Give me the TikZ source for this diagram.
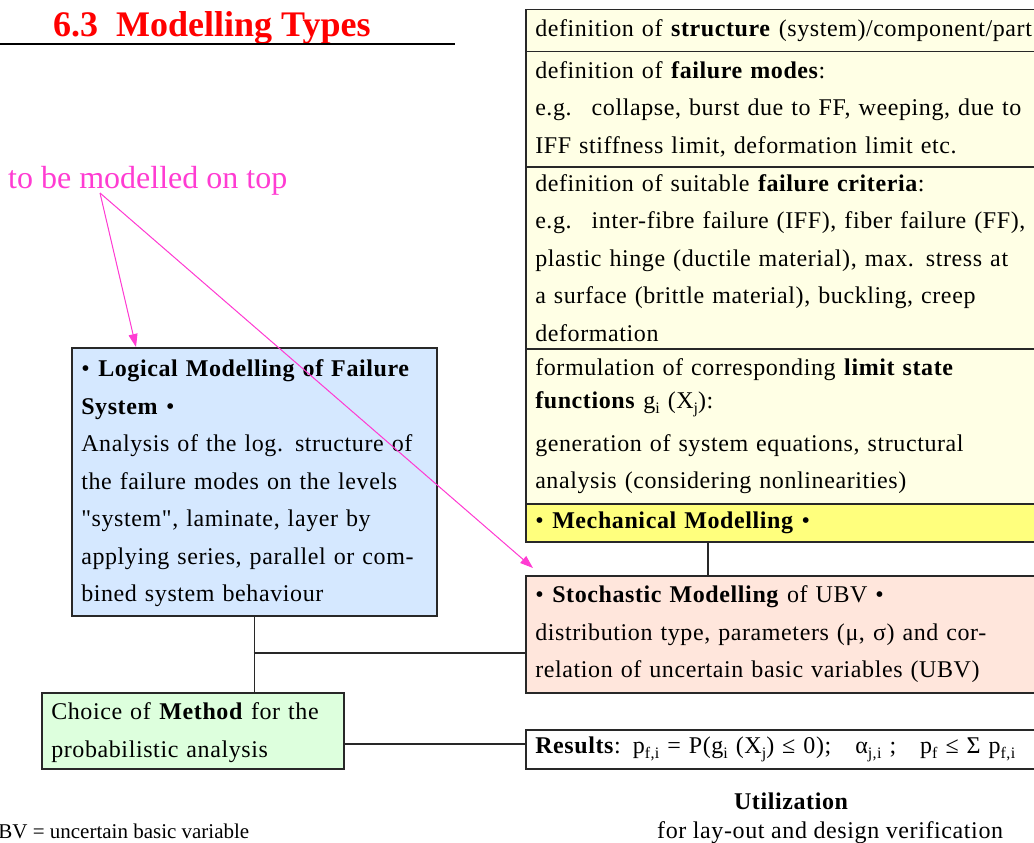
\documentclass[tikz,border=0pt]{standalone}
\usepackage{fontspec}
\setmainfont{Liberation Serif}
\newfontfamily\bodyfont[LetterSpace=2.5]{Liberation Serif}
\usetikzlibrary{arrows.meta}
\newcommand\lowsub[1]{\raisebox{-0.4ex}{\fontsize{16}{16}\selectfont #1}}
\definecolor{paleyellow}{RGB}{255,255,229}
\definecolor{mechyellow}{RGB}{255,255,125}
\definecolor{peach}{RGB}{255,230,220}
\definecolor{paleblue}{RGB}{213,232,255}
\definecolor{palegreen}{RGB}{221,255,221}
\definecolor{magentaline}{RGB}{255,60,210}
\definecolor{boxline}{RGB}{40,40,40}
\tikzset{
  box/.style={draw=boxline, line width=1.5pt, anchor=north west, inner xsep=9.5pt, inner ysep=0pt,
    font=\bodyfont\fontsize{24}{37.5}\selectfont, align=left},
  colbox/.style={box, text width=600pt},
  conn/.style={draw=boxline, line width=1.5pt},
  pointer/.style={draw=magentaline, line width=1pt, -{Triangle[length=13pt,width=9pt]}, fill=magentaline}
}
\begin{document}
\begin{tikzpicture}[x=1pt,y=-1pt]
\useasboundingbox (0,0) rectangle (1034,843);

% title
\node[anchor=base west, inner sep=0pt, text=red, font=\fontsize{36}{40}\selectfont\bfseries] (title) at (53,37) {6.3~~Modelling Types};
\draw[line width=1.5pt, black] (0,44) -- (455,44);

% right column
\node[colbox, fill=paleyellow, minimum height=42pt] (r1) at (525,9)
  {definition of \textbf{structure} (system)/component/part};
\node[colbox, fill=paleyellow, minimum height=115pt] (r2) at (525,51)
  {definition of \textbf{failure modes}:\\
   e.g.~ collapse, burst due to FF, weeping, due to\\
   IFF stiffness limit, deformation limit etc.};
\node[colbox, fill=paleyellow, minimum height=182pt] (r3) at (525,166)
  {definition of suitable \textbf{failure criteria}:\\
   e.g.~ inter-fibre failure (IFF), fiber failure (FF),\\
   plastic hinge (ductile material), max. stress at\\
   a surface (brittle material), buckling, creep\\
   deformation};
\node[colbox, fill=paleyellow, minimum height=155pt] (r4) at (525,348)
  {formulation of corresponding \textbf{limit state}\\[-4pt]
   \textbf{functions} g\lowsub{i} (X\lowsub{j}):\\[5pt]
   generation of system equations, structural\\
   analysis (considering nonlinearities)};
\node[colbox, fill=mechyellow, minimum height=38pt] (mech) at (525,503)
  {• \textbf{Mechanical Modelling} •};

\node[colbox, fill=peach, minimum height=117pt] (stoch) at (525,575)
  {• \textbf{Stochastic Modelling} of UBV •\\
   distribution type, parameters (μ, σ) and cor-\\
   relation of uncertain basic variables (UBV)};

\node[colbox, fill=white, minimum height=39pt] (res) at (525,729)
  {\textbf{Results}: p\lowsub{f,i} = P(g\lowsub{i} (X\lowsub{j}) ≤ 0);~~ α\lowsub{j,i} ;~~ p\lowsub{f} ≤ Σ p\lowsub{f,i}};

% left boxes
\node[box, fill=paleblue, text width=346pt, minimum height=268pt] (logic) at (71,347)
  {\begin{tabular}{@{}l@{}}
   • \textbf{Logical Modelling of Failure}\\
   \textbf{System} •\\
   Analysis of the log. structure of\\
   the failure modes on the levels\\
   "system", laminate, layer by\\
   applying series, parallel or com-\\
   bined system behaviour
   \end{tabular}};
\node[box, fill=palegreen, text width=283pt, minimum height=76pt] (method) at (41,692)
  {\begin{tabular}{@{}l@{}}
   Choice of \textbf{Method} for the\\
   probabilistic analysis
   \end{tabular}};

% connectors
\coordinate (jn) at (253.5,653);
\coordinate (mx) at (708,560);
\coordinate (ry) at (400,744);
\draw[conn] (logic.south) -- (logic.south |- method.north);
\draw[conn] (jn) -- (jn -| stoch.west);
\draw[conn] (mx |- mech.south) -- (mx |- stoch.north);
\draw[conn] (ry -| method.east) -- (ry -| res.west);

% annotation
\node[anchor=base west, inner sep=0pt, text=magentaline, font=\fontsize{32}{36}\selectfont] (note) at (8,188) {to be modelled on top};
\coordinate (src) at (100,193);
\coordinate (tgtA) at (136,347);
\coordinate (tgtB) at (533,568);
\draw[pointer] (src) -- (tgtA);
\draw[pointer] (src) -- (tgtB);

% utilization
\node[anchor=base, inner sep=0pt, font=\bodyfont\fontsize{24}{30}\selectfont\bfseries] (util) at (791,809) {Utilization};
\node[anchor=base west, inner sep=0pt, font=\bodyfont\fontsize{24}{30}\selectfont] (utiltext) at (657,838) {for lay-out and design verification};

% footnote
\node[anchor=base west, inner sep=0pt, font=\fontsize{21}{24}\selectfont] (ubv) at (-17,838) {UBV = uncertain basic variable};
\end{tikzpicture}
\end{document}
